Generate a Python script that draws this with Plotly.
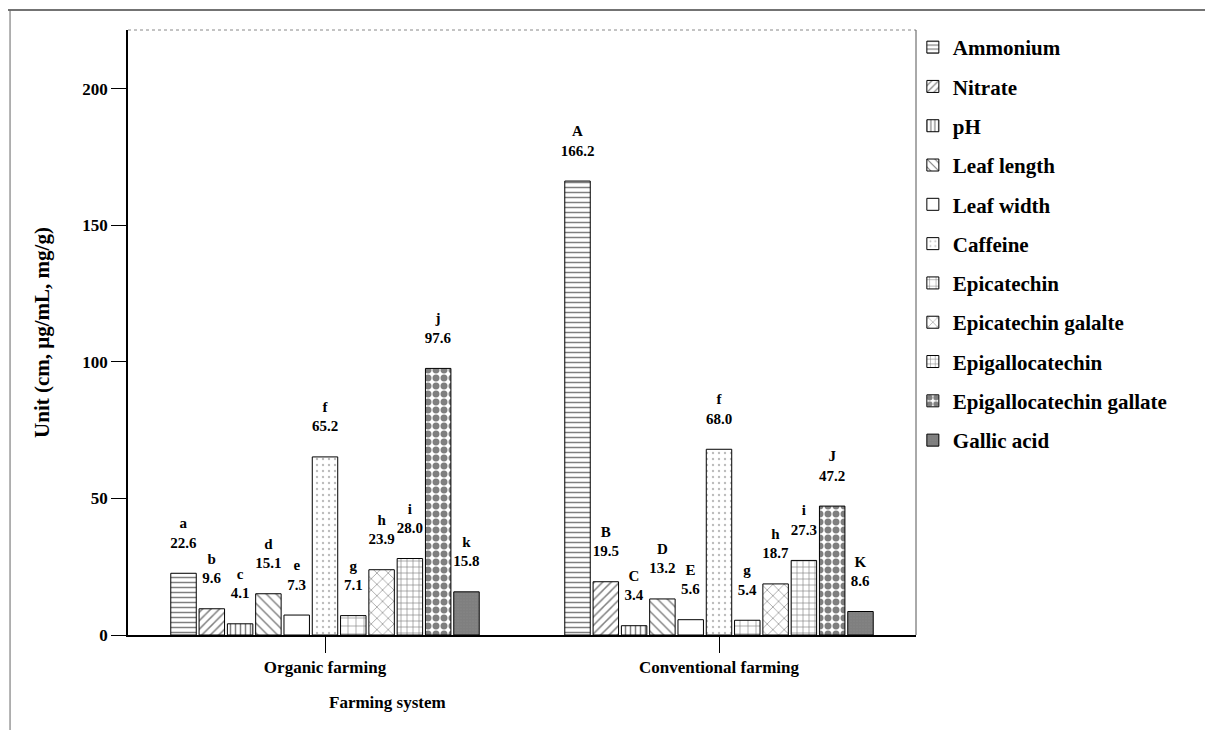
import plotly.graph_objects as go

categories = ["Organic farming", "Conventional farming"]
series_names = ["Ammonium", "Nitrate", "pH", "Leaf length", "Leaf width", "Caffeine",
                "Epicatechin", "Epicatechin galalte", "Epigallocatechin",
                "Epigallocatechin gallate", "Gallic acid"]
organic_values = [22.6, 9.6, 4.1, 15.1, 7.3, 65.2, 7.1, 23.9, 28.0, 97.6, 15.8]
conventional_values = [166.2, 19.5, 3.4, 13.2, 5.6, 68.0, 5.4, 18.7, 27.3, 47.2, 8.6]
organic_letters = ["a", "b", "c", "d", "e", "f", "g", "h", "i", "j", "k"]
conventional_letters = ["A", "B", "C", "D", "E", "f", "g", "h", "i", "J", "K"]
y_ticks = [0, 50, 100, 150, 200]

patterns = [
    dict(shape="-", size=5, solidity=0.3, fgcolor="black"),
    dict(shape="/", size=6, solidity=0.25, fgcolor="black"),
    dict(shape="|", size=5, solidity=0.3, fgcolor="black"),
    dict(shape="\\", size=7, solidity=0.2, fgcolor="black"),
    dict(shape="", fgcolor="black"),
    dict(shape=".", size=6, solidity=0.12, fgcolor="#777777"),
    dict(shape="+", size=8, solidity=0.15, fgcolor="black"),
    dict(shape="x", size=8, solidity=0.15, fgcolor="black"),
    dict(shape="+", size=6, solidity=0.2, fgcolor="black"),
    dict(shape=".", size=8, solidity=0.6, fgcolor="black"),
    dict(shape=".", size=3, solidity=0.9, fgcolor="black"),
]

FONT = "Liberation Serif"
fig = go.Figure()
for i, name in enumerate(series_names):
    vals = [organic_values[i], conventional_values[i]]
    letters = [organic_letters[i], conventional_letters[i]]
    texts = [f"{l}<br>{v:.1f}<br> " for l, v in zip(letters, vals)]
    pat = dict(patterns[i])
    pat["bgcolor"] = "white"
    fig.add_trace(go.Bar(
        name=name, x=categories, y=vals, text=texts,
        textposition="outside", cliponaxis=False, constraintext="none",
        textfont=dict(family=FONT, size=15, color="black", weight="bold"),
        marker=dict(color="white", line=dict(color="black", width=1), pattern=pat),
        legendgroup=name,
    ))

fig.update_layout(
    width=1205, height=722,
    margin=dict(l=120, r=297, t=22, b=95),
    paper_bgcolor="white", plot_bgcolor="white",
    barmode="group", bargap=0.21, bargroupgap=0.1,
    font=dict(family=FONT, color="black"),
    showlegend=True,
    legend=dict(x=0.996, y=1.005, xanchor="left", yanchor="top", maxheight=700,
                font=dict(family=FONT, size=21, color="black", weight="bold"),
                tracegroupgap=9, itemwidth=30, bgcolor="rgba(0,0,0,0)"),
    xaxis=dict(type="category", range=[-0.5, 1.5], showline=True, linecolor="black",
               linewidth=1.5, ticks="outside", ticklen=16, tickcolor="black",
               tickfont=dict(family=FONT, size=17, color="black", weight="bold"),
               showgrid=False, zeroline=False),
    yaxis=dict(range=[0, 221.5], tickvals=y_ticks, showline=True, linecolor="black",
               linewidth=1.5, ticks="outside", ticklen=15, tickcolor="black",
               tickfont=dict(family=FONT, size=17, color="black", weight="bold"),
               showgrid=False, zeroline=False,
               title=dict(text="Unit (cm, μg/mL, mg/g)", standoff=27,
                          font=dict(family=FONT, size=21, color="black", weight="bold"))),
)

fig.add_annotation(text="Farming system", xref="paper", yref="paper", x=0.329, y=-0.112,
                   showarrow=False, xanchor="center", yanchor="middle",
                   font=dict(family=FONT, size=17, color="black", weight="bold"))

# plot area top (dotted) and right border
fig.add_shape(type="line", xref="paper", yref="paper", x0=0, x1=1, y0=1, y1=1,
              line=dict(color="#888888", width=1, dash="dot"))
fig.add_shape(type="line", xref="paper", yref="paper", x0=1, x1=1, y0=0, y1=1,
              line=dict(color="#555555", width=1))
# outer image frame (top and left)
fig.add_shape(type="line", xref="paper", yref="paper", x0=-0.17, x1=1.4, y0=1.033, y1=1.033,
              line=dict(color="#444444", width=1.5))
fig.add_shape(type="line", xref="paper", yref="paper", x0=-0.1497, x1=-0.1497, y0=1.033, y1=-0.17,
              line=dict(color="#666666", width=1))

fig.write_html("out.html")
